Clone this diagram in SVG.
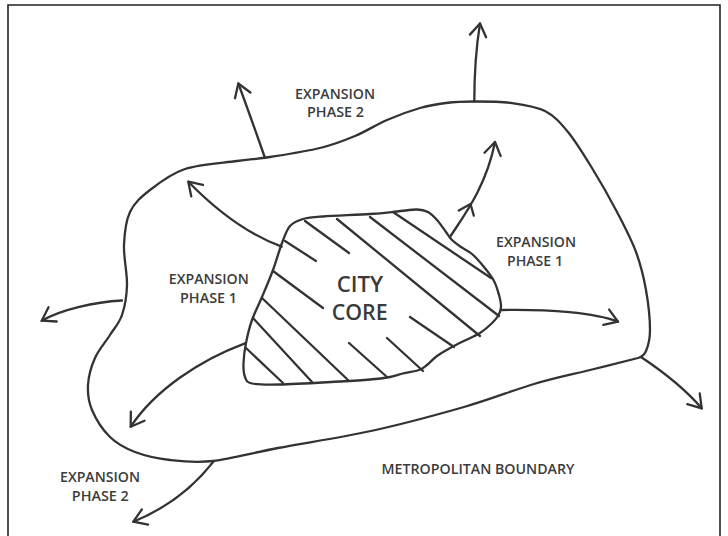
<svg xmlns="http://www.w3.org/2000/svg" width="728" height="536" viewBox="0 0 728 536">
<style>
.ln{fill:none;stroke:#333;stroke-width:2.3;stroke-linecap:round;stroke-linejoin:round}
.lbl{font-family:"Open Sans","Liberation Sans",sans-serif;font-size:14.5px;font-weight:600;fill:#3c3c3c;text-anchor:middle}
.core{font-family:"Open Sans","Liberation Sans",sans-serif;font-size:22px;font-weight:600;fill:#3a3a3a;text-anchor:middle}
</style>
<defs>
<marker id="ah" markerUnits="userSpaceOnUse" markerWidth="32" markerHeight="32" viewBox="-16 -16 32 32" refX="0" refY="0" orient="auto" overflow="visible">
<path d="M-12.6,-8.2 L0,0 L-12.6,8.2" fill="none" stroke="#333" stroke-width="2.3" stroke-linecap="round" stroke-linejoin="round"/>
</marker>
</defs>
<rect width="728" height="536" fill="#fff"/>
<path d="M8,540 V5 H720 V540" fill="none" stroke="#222" stroke-width="1.6"/>

<g id="metropolitan-boundary">
<path class="ln" d="M474,101.5 C485,101.5 500.2,101.4 512,103 C523.8,104.6 535.7,106.2 545,111 C554.3,115.8 560.2,122.5 568,132 C575.8,141.5 583.8,154.7 592,168 C600.2,181.3 609.7,198 617,212 C624.3,226 631.2,239 636,252 C640.8,265 643.7,277 646,290 C648.3,303 650,319.8 650,330 C650,340.2 648,346.3 646,351 C644,355.7 642,357 638,358 C634,359 607.3,365.7 590,370 C572.7,374.3 555,377.8 534,384 C513,390.2 491.2,399.2 464,407 C436.8,414.8 402,424.2 371,431 C340,437.8 304.3,443 278,448 C251.7,453 231,459 213,461 C195,463 183,461.5 170,460 C157,458.5 145,455.8 135,452 C125,448.2 117.2,444 110,437 C102.8,430 95.7,418.7 92,410 C88.3,401.3 87.5,393.7 88,385 C88.5,376.3 91.3,366.3 95,358 C98.7,349.7 105.5,342.2 110,335 C114.5,327.8 119.2,323.3 122,315 C124.8,306.7 126.7,296.7 127,285 C127.3,273.3 123.5,257.2 124,245 C124.5,232.8 125.7,221.2 130,212 C134.3,202.8 140.8,197.2 150,190 C159.2,182.8 170.5,173.8 185,169 C199.5,164.2 222.8,163 237,161 C251.2,159 256.2,159.2 270,157 C283.8,154.8 305.8,151.5 320,148 C334.2,144.5 343.8,140.7 355,136 C366.2,131.3 376.2,124.7 387,120 C397.8,115.3 410.2,110.8 420,108 C429.8,105.2 437,104.1 446,103 C455,101.9 463,101.5 474,101.5 Z"/>
<text class="lbl" x="478" y="474" textLength="193" lengthAdjust="spacingAndGlyphs">METROPOLITAN BOUNDARY</text>
</g>

<g id="city-core">
<path class="ln" d="M323,216.5 C334.2,215.7 357.7,214.8 370,214 C382.3,213.2 389.2,212.3 397,211.5 C404.8,210.8 411.8,209.4 417,209.5 C422.2,209.6 424.7,210.3 428,212 C431.3,213.8 434,216.7 437,220 C440,223.3 443.5,228.7 446,232 C448.5,235.3 449.5,237.5 452,240 C454.5,242.5 457.7,244.7 461,247 C464.3,249.3 468.2,250.7 472,254 C475.8,257.3 480.3,262.5 484,267 C487.7,271.5 491.5,276.3 494,281 C496.5,285.7 497.8,290.7 499,295 C500.2,299.3 501.2,303.5 501,307 C500.8,310.5 499.8,313 498,316 C496.2,319 493,322.2 490,325 C487,327.8 484,330.5 480,333 C476,335.5 470.7,337.7 466,340 C461.3,342.3 456.8,344.3 452,347 C447.2,349.7 441.2,353 437,356 C432.8,359 430,362.7 427,365 C424,367.3 423,368.6 419,370 C415,371.4 407.8,372.3 403,373.5 C398.2,374.7 395.5,376 390,377 C384.5,378 378.3,378.8 370,379.5 C361.7,380.3 355,380.7 340,381.5 C325,382.3 294.7,384.2 280,384.5 C265.3,384.8 257.8,384.8 252,383.5 C246.2,382.3 246.4,380.4 245,377 C243.6,373.6 243.3,368.7 243.5,363 C243.7,357.3 244.6,350.2 246,343 C247.4,335.8 249.3,327.7 252,320 C254.7,312.3 258.5,305.3 262,297 C265.5,288.7 269.7,279 273,270 C276.3,261 279.2,250.3 282,243 C284.8,235.7 286.5,230 290,226 C293.5,222 297.5,220.6 303,219 C308.5,217.4 311.8,217.3 323,216.5 Z"/>
<path class="ln" d="M305,221 L349,253 M285,241 L316,261 M337,219 L480,336 M370,217 L499,316 M393,212 L491,278 M273,271 L323,308 M262,298 L348,380 M253,318 L312,382 M246,348 L283,383 M349,343 L387,377 M387,338 L423,371 M410,317 L454,347"/>
<text class="core" x="360" y="291.7" textLength="46.5" lengthAdjust="spacingAndGlyphs">CITY</text>
<text class="core" x="359.7" y="320" textLength="56" lengthAdjust="spacingAndGlyphs">CORE</text>
</g>

<g id="label-phase2-top">
<text class="lbl" x="335" y="99" textLength="80" lengthAdjust="spacingAndGlyphs">EXPANSION</text>
<text class="lbl" x="335.5" y="117.3" textLength="57" lengthAdjust="spacingAndGlyphs">PHASE 2</text>
</g>
<g id="label-phase1-right">
<text class="lbl" x="536" y="247" textLength="80" lengthAdjust="spacingAndGlyphs">EXPANSION</text>
<text class="lbl" x="535" y="266" textLength="56" lengthAdjust="spacingAndGlyphs">PHASE 1</text>
</g>
<g id="label-phase1-left">
<text class="lbl" x="208.8" y="284" textLength="80" lengthAdjust="spacingAndGlyphs">EXPANSION</text>
<text class="lbl" x="208.5" y="302.5" textLength="57" lengthAdjust="spacingAndGlyphs">PHASE 1</text>
</g>
<g id="label-phase2-bottom">
<text class="lbl" x="100" y="481.7" textLength="80" lengthAdjust="spacingAndGlyphs">EXPANSION</text>
<text class="lbl" x="100.3" y="500.7" textLength="57" lengthAdjust="spacingAndGlyphs">PHASE 2</text>
</g>

<g id="connectors">
<path class="ln" marker-end="url(#ah)" d="M474.3,101.7 C474.3,70 477,42 480,23.5"/>
<path class="ln" marker-end="url(#ah)" d="M265,158 Q250,115 238.3,83.5"/>
<path class="ln" marker-end="url(#ah)" d="M281.7,246.7 C250,235 218,212 188.3,181.7"/>
<path class="ln" marker-end="url(#ah)" d="M122,300.5 C95,302 62,309 41.7,320.7"/>
<path class="ln" marker-end="url(#ah)" d="M245,343.3 C200,360 155,390 130.7,426.7"/>
<path class="ln" marker-end="url(#ah)" d="M450,237 C462,218 486,188 495,142"/>
<path class="ln" d="M458.8,210.6 L470.5,204 L473.8,215.6"/>
<path class="ln" marker-end="url(#ah)" d="M501,310 C550,309 595,313 618,321.7"/>
<path class="ln" marker-end="url(#ah)" d="M641,357 Q680,383 701.7,408.3"/>
<path class="ln" marker-end="url(#ah)" d="M213.5,461.5 Q182,502 133.3,521.7"/>
</g>
</svg>
